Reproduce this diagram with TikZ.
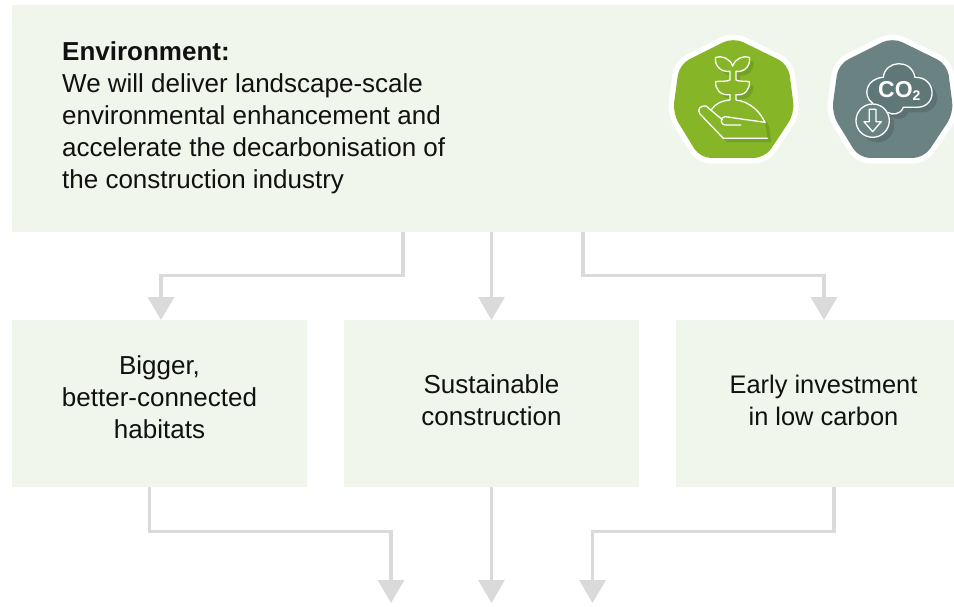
\documentclass[tikz,border=0pt]{standalone}
\usepackage{fontspec}
\setmainfont{Liberation Sans}
\usetikzlibrary{arrows.meta}
\definecolor{panel}{HTML}{F0F6EC}
\definecolor{conn}{HTML}{DADADA}
\definecolor{leaf}{HTML}{86B627}
\definecolor{leafdark}{HTML}{72A224}
\definecolor{slate}{HTML}{6B8283}
\definecolor{slatedark}{HTML}{5C7272}
\definecolor{ink}{HTML}{111111}
\tikzset{
  panelbox/.style={fill=panel,draw=none,inner sep=0pt,anchor=north west},
  label/.style={text=ink,align=center,font=\fontsize{26}{32}\selectfont,inner sep=0pt},
  flow/.style={draw=conn,line width=3.2pt,-{Triangle[length=23pt,width=26pt,fill=conn]}},
  halo/.style={draw=white,line width=11pt,rounded corners=11pt,line join=round},
  badgefill/.style={rounded corners=11pt},
  ico/.style={draw=white,line width=1.3pt,line join=round,line cap=round}
}
\newcommand{\heptagon}{(250,52) -- (415,133) -- (434,280) -- (345,414) -- (150,414) -- (68,280) -- (88,133) -- cycle}
\newcommand{\heptagonb}{(727,52) -- (892,133) -- (911,280) -- (822,414) -- (627,414) -- (545,280) -- (565,133) -- cycle}
\newcommand{\plantleft}{(248,138) .. controls (240,115) and (215,106) .. (197,112) .. controls (192,135) and (212,158) .. (240,154) -- (240,180)
    .. controls (228,186) and (215,182) .. (197,185) .. controls (195,208) and (212,228) .. (240,224) -- (240,240)
    .. controls (215,242) and (195,252) .. (185,268)}
\newcommand{\plantright}{(248,138) .. controls (256,115) and (280,106) .. (298,112) .. controls (303,135) and (285,158) .. (258,154) -- (258,180)
    .. controls (270,186) and (285,182) .. (298,185) .. controls (300,208) and (285,228) .. (258,224) -- (258,240)
    .. controls (300,245) and (330,275) .. (345,307)}
\newcommand{\plantshape}{
  (248,138) .. controls (240,115) and (215,106) .. (197,112) .. controls (192,135) and (212,158) .. (240,154) -- (240,180)
  .. controls (228,186) and (215,182) .. (197,185) .. controls (195,208) and (212,228) .. (240,224) -- (240,240)
  .. controls (215,242) and (195,252) .. (185,268)
  -- (168,258) .. controls (150,255) and (140,270) .. (150,282) -- (220,355) -- (352,355) -- (345,307)
  .. controls (330,275) and (300,245) .. (258,240) -- (258,224)
  .. controls (285,228) and (300,208) .. (298,185) .. controls (285,182) and (270,186) .. (258,180) -- (258,154)
  .. controls (285,158) and (303,135) .. (298,112) .. controls (280,106) and (256,115) .. (248,138) -- cycle}
\newcommand{\cloudshape}{
  (668,250) .. controls (635,225) and (650,175) .. (700,172) .. controls (705,120) and (785,115) .. (795,172)
  .. controls (860,170) and (865,262) .. (800,262) -- (760,262) .. controls (752,285) and (725,285) .. (716,278) -- cycle}
\begin{document}
\begin{tikzpicture}[x=1pt,y=-1pt]
\useasboundingbox (0,0) rectangle (954,607);
\fill[white] (0,0) rectangle (954,607);
\node[panelbox,minimum width=942pt,minimum height=227pt] (main) at (12,5) {};
\node[panelbox,minimum width=295pt,minimum height=167pt] (habitats) at (12,320) {};
\node[panelbox,minimum width=295pt,minimum height=167pt] (construction) at (344,320) {};
\node[panelbox,minimum width=278pt,minimum height=167pt] (carbon) at (676,320) {};
\node[label,align=left,anchor=north west] (envtext) at (62,41) {\textbf{Environment:}\\We will deliver landscape-scale\\environmental enhancement and\\accelerate the decarbonisation of\\the construction industry};
\node[label] (t1) at (159.5,397) {Bigger,\\better-connected\\habitats};
\node[label] (t2) at (491.5,400) {Sustainable\\construction};
\node[label,font=\fontsize{25.4}{32}\selectfont] (t3) at (823.5,400) {Early investment\\in low carbon};
% connectors
\coordinate (a1) at (403,232); \coordinate (b1) at (161,320);
\coordinate (a2) at (491.5,232); \coordinate (b2) at (491.5,320);
\coordinate (a3) at (583,232); \coordinate (b3) at (824,320);
\coordinate (c1) at (149.5,487); \coordinate (d1) at (391,603);
\coordinate (c2) at (491.5,487); \coordinate (d2) at (491.5,603);
\coordinate (c3) at (834,487); \coordinate (d3) at (592.5,603);
\draw[flow] (a1) -- (403,275.5) -- (161,275.5) -- (b1);
\draw[flow] (a2) -- (b2);
\draw[flow] (a3) -- (583,275.5) -- (824,275.5) -- (b3);
\draw[flow] (c1) -- (149.5,531.5) -- (391,531.5) -- (d1);
\draw[flow] (c2) -- (d2);
\draw[flow] (c3) -- (834,531.5) -- (592.5,531.5) -- (d3);
% badges
\begin{scope}[shift={(650,20)},x=0.3333pt,y=-0.3333pt]
  \draw[halo] \heptagon;
  \fill[leaf,badgefill] \heptagon;
  \begin{scope}[shift={(12,12)}]
    \fill[leafdark] \plantshape;
  \end{scope}
  \fill[leaf] \plantshape;
  \draw[ico] \plantleft;
  \draw[ico] \plantright;
  \draw[ico] (345,307) -- (225,290) .. controls (210,290) and (210,315) .. (225,315) -- (272,315);
  \draw[ico] (218,300) -- (168,258) .. controls (150,255) and (140,270) .. (150,282) -- (220,355) -- (352,355);
  \draw[halo] \heptagonb;
  \fill[slate,badgefill] \heptagonb;
  \begin{scope}[shift={(15,15)}]
    \fill[slatedark] \cloudshape;
    \fill[slatedark] (668,302) circle[radius=50];
  \end{scope}
  \fill[slatedark!70!slate] \cloudshape;
  \draw[ico] (668,250) .. controls (635,225) and (650,175) .. (700,172) .. controls (705,120) and (785,115) .. (795,172)
    .. controls (860,170) and (865,262) .. (800,262) -- (760,262) .. controls (752,285) and (725,285) .. (716,278);
  \fill[slate] (668,302) circle[radius=50];
  \draw[ico] (668,302) circle[radius=50];
  \draw[ico] (658,268) -- (678,268) -- (678,305) -- (694,305) -- (668,335) -- (642,305) -- (658,305) -- cycle;
  \node[text=white,font=\fontsize{23}{23}\selectfont\bfseries,inner sep=0pt] (co2) at (748,213) {CO\raisebox{-2.5pt}{\fontsize{14}{14}\selectfont 2}};
\end{scope}
\end{tikzpicture}
\end{document}
